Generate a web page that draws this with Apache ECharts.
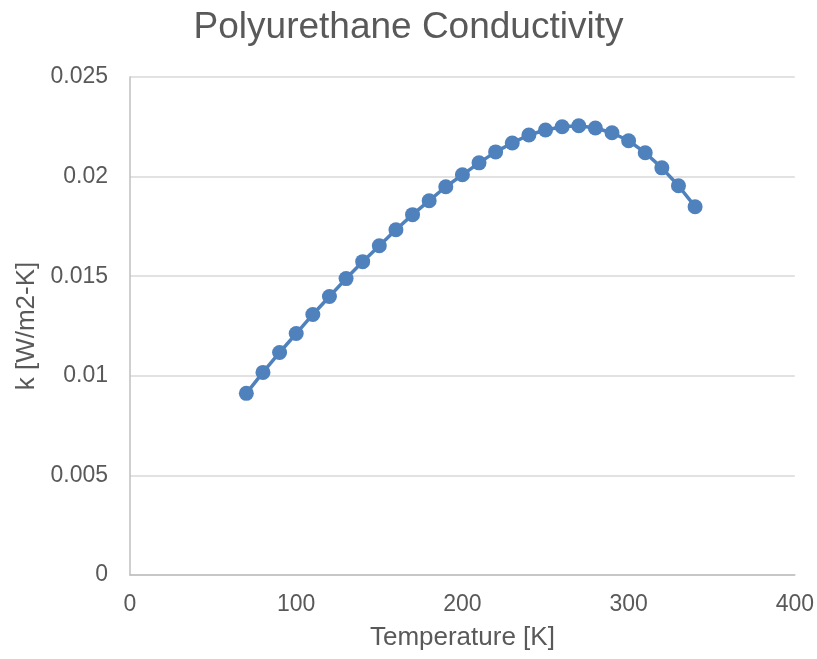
<!DOCTYPE html>
<html><head><meta charset="utf-8">
<script src="https://cdn.jsdelivr.net/npm/echarts@6/dist/echarts.min.js"></script>
<style>html,body{margin:0;padding:0;background:#fff}#c{width:817px;height:659px}</style>
</head><body><div id="c"></div>
<script>
const temperatures = [70,80,90,100,110,120,130,140,150,160,170,180,190,200,210,220,230,240,250,260,270,280,290,300,310,320,330,340];
const conductivity = [0.00912,0.01017,0.01117,0.01212,0.01308,0.01398,0.01488,0.01573,0.01653,0.01733,0.01809,0.01879,0.01949,0.02009,0.02069,0.02124,0.02169,0.02209,0.02234,0.0225,0.02255,0.02244,0.0222,0.0218,0.0212,0.02044,0.01954,0.01849];
const titleText = "Polyurethane Conductivity";
const xName = "Temperature [K]";
const yName = "k [W/m2-K]";

const font = "Liberation Sans";
const txt = "#595959";
const chart = echarts.init(document.getElementById('c'));
chart.setOption({
  animation: false,
  backgroundColor: "#fff",
  title: { text: titleText, left: "center", top: 4,
    textStyle: { fontFamily: font, fontSize: 37, fontWeight: "normal", color: txt } },
  grid: { left: 130, right: 22, top: 77, bottom: 84 },
  xAxis: {
    type: "value", min: 0, max: 400, interval: 100,
    name: xName, nameLocation: "middle", nameGap: 50,
    nameTextStyle: { fontFamily: font, fontSize: 26, color: txt },
    axisLine: { show: true, lineStyle: { color: "#bfbfbf", width: 1.5 } },
    axisTick: { show: false },
    axisLabel: { fontFamily: font, fontSize: 23, color: txt, margin: 18 },
    splitLine: { show: false }
  },
  yAxis: {
    type: "value", min: 0, max: 0.025, interval: 0.005,
    name: yName, nameLocation: "middle", nameGap: 88, nameRotate: 90,
    nameTextStyle: { fontFamily: font, fontSize: 26, color: txt },
    axisLine: { show: true, lineStyle: { color: "#bfbfbf", width: 1.5 } },
    axisTick: { show: false },
    axisLabel: { fontFamily: font, fontSize: 23, color: txt, margin: 22,
      formatter: v => String(Number(v.toFixed(4))) },
    splitLine: { show: true, lineStyle: { color: "#d9d9d9", width: 1.5 } }
  },
  series: [{
    type: "line",
    data: temperatures.map((t, i) => [t, conductivity[i]]),
    symbol: "circle", symbolSize: 15,
    itemStyle: { color: "#4f81bd" },
    lineStyle: { color: "#4f81bd", width: 3.5 }
  }]
});
</script></body></html>
